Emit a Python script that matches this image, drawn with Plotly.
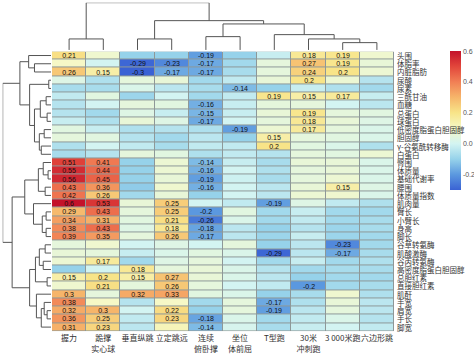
import plotly.graph_objects as go

# ---------------- data ----------------
col_labels = ["握力", "跪撑<br>实心球", "垂直纵跳", "立定跳远", "连续<br>俯卧撑",
              "坐位<br>体前屈", "T型跑", "30米<br>冲刺跑", "3 000米跑", "六边形跳"]

row_labels = ["头围", "体脂率", "内脏脂肪", "尿酸", "尿素", "三酰甘油", "血糖", "总蛋白",
              "球蛋白", "低密度脂蛋白胆固醇", "胆固醇", "γ-谷氨酰转移酶", "白蛋白", "臀围",
              "体质量", "基础代谢率", "腰围", "体质量指数", "肌肉量", "臂长", "小臂长", "身高",
              "脚长", "谷草转氨酶", "肌酸激酶", "谷丙转氨酶", "高密度脂蛋白胆固醇", "总胆红素",
              "直接胆红素", "肌酐", "手宽", "肩宽", "手长", "脚宽"]

grip = [0.21, 0.1, 0.26, 0.03, -0.07, -0.03, -0.05, -0.05, -0.02, 0.04, 0.05, -0.06, -0.07,
        0.51, 0.55, 0.56, 0.43, 0.42, 0.6, 0.29, 0.34, 0.38, 0.39,
        0.05, 0.06, 0.07, -0.1, 0.15, 0.08, 0.3, 0.38, 0.32, 0.36, 0.31]
ball = [0.08, 0.0, 0.15, -0.06, -0.07, 0.04, 0.0, -0.08, -0.06, -0.02, 0.04, 0.0, -0.05,
        0.41, 0.44, 0.45, 0.36, 0.26, 0.53, 0.43, 0.31, 0.43, 0.35,
        0.08, 0.05, 0.17, 0.0, 0.2, 0.21, 0.05, 0.1, 0.3, 0.25, 0.23]
vjump = [-0.1, -0.29, -0.3, 0.05, 0.02, -0.09, 0.05, 0.03, 0.06, -0.06, -0.05, -0.03, 0.05,
         -0.1, -0.1, -0.1, -0.11, -0.08, 0.06, 0.05, 0.04, 0.03, 0.05,
         0.0, -0.02, -0.08, 0.18, 0.15, 0.05, 0.32, -0.05, 0.0, -0.03, -0.04]
ljump = [-0.1, -0.23, -0.17, 0.06, -0.04, 0.0, 0.04, -0.02, 0.03, -0.05, -0.08, -0.07, 0.04,
         0.07, 0.07, 0.06, 0.08, 0.06, 0.25, 0.25, 0.21, 0.18, 0.26,
         0.03, 0.02, 0.03, 0.05, 0.27, 0.26, 0.33, 0.1, 0.22, 0.23, 0.12]
pushup = [-0.19, -0.17, -0.17, -0.08, -0.07, -0.08, -0.16, -0.15, -0.17, -0.06, -0.04, -0.03, -0.06,
          -0.14, -0.16, -0.19, -0.16, -0.1, 0.0, -0.2, -0.26, -0.18, -0.17,
          0.0, 0.04, 0.05, 0.06, 0.06, 0.05, 0.04, -0.08, -0.1, -0.18, -0.14]
sitreach = [-0.1, -0.08, -0.07, -0.03, -0.14, -0.03, -0.02, -0.02, 0.0, -0.19, -0.1, -0.03, -0.03,
            -0.02, 0.0, -0.01, 0.0, 0.0, -0.03, 0.04, 0.02, -0.04, -0.04,
            0.05, 0.02, 0.0, 0.02, 0.02, 0.0, 0.02, 0.05, 0.05, 0.02, 0.01]
trun = [-0.02, 0.05, 0.05, 0.06, -0.1, 0.19, 0.05, 0.06, 0.05, 0.07, 0.15, 0.2, -0.05,
        -0.07, -0.06, -0.07, -0.04, -0.04, -0.19, -0.08, -0.08, -0.1, -0.09,
        -0.1, -0.29, -0.08, -0.05, -0.04, -0.03, -0.1, -0.17, -0.19, -0.08, -0.07]
sprint30 = [0.18, 0.27, 0.24, 0.2, -0.02, 0.15, 0.05, 0.19, 0.18, 0.17, 0.05, 0.04, 0.05,
            0.06, 0.05, 0.05, 0.06, 0.07, 0.03, -0.02, -0.03, -0.05, -0.02,
            -0.04, -0.04, -0.02, -0.08, -0.1, -0.2, -0.07, -0.06, -0.04, -0.03, -0.02]
run3000 = [0.19, 0.19, 0.2, 0.07, -0.06, 0.17, 0.0, 0.05, 0.06, 0.05, 0.04, 0.02, 0.04,
           0.06, 0.06, 0.07, 0.15, 0.08, -0.03, -0.08, -0.08, -0.09, -0.09,
           -0.23, -0.17, -0.08, -0.07, -0.08, -0.08, 0.08, 0.06, 0.05, 0.02, 0.0]
hexjump = [0.08, 0.06, 0.07, -0.05, -0.08, -0.02, -0.04, 0.04, 0.03, 0.02, 0.02, -0.06, 0.07,
           0.02, 0.02, 0.02, 0.03, 0.02, -0.06, -0.08, -0.07, -0.07, -0.08,
           -0.08, -0.07, -0.06, -0.07, -0.08, -0.07, -0.06, -0.04, -0.04, -0.05, -0.03]

columns = [grip, ball, vjump, ljump, pushup, sitreach, trun, sprint30, run3000, hexjump]

# dendrogram merges: (child a, child b, height); ids >= n refer to earlier merges
col_merges = [(0, 1, 11), (2, 3, 11), (4, 5, 13.3), (8, 9, 7.3), (7, 13, 11),
              (6, 14, 15.3), (12, 15, 26), (11, 16, 29.3), (10, 17, 47.3)]
row_merges = [(1, 2, 17), (0, 34, 23), (3, 4, 2.3), (5, 6, 5), (7, 8, 4), (37, 38, 11),
              (9, 10, 7), (11, 12, 10), (40, 41, 12), (39, 42, 17), (36, 43, 22), (35, 44, 32),
              (14, 15, 3), (13, 46, 8), (16, 17, 6), (47, 48, 13), (19, 20, 5), (21, 22, 5),
              (50, 51, 9), (18, 52, 18), (49, 53, 27), (23, 24, 6), (25, 26, 8), (55, 56, 12),
              (27, 28, 4), (57, 58, 16), (31, 32, 4), (30, 60, 7), (61, 33, 10), (29, 62, 15),
              (59, 63, 22), (54, 64, 40), (45, 65, 49.7)]

SIG = 0.14

# ---------------- build ----------------
nr, nc = len(row_labels), len(col_labels)
z = [[columns[j][i] for j in range(nc)] for i in range(nr)]
txt = [[(f"{v:g}" if abs(v) >= SIG else "") for v in row] for row in z]


def dendro(merges, n):
    pos = {i: (float(i), 0.0) for i in range(n)}
    a_s, h_s = [], []
    for k, (a, b, h) in enumerate(merges):
        xa, ha = pos[a]
        xb, hb = pos[b]
        a_s += [xa, xa, xb, xb, None]
        h_s += [ha, h, h, hb, None]
        pos[n + k] = ((xa + xb) / 2, h)
    return a_s, h_s


cscale = [[0.0, "#3a62d4"], [0.111, "#5b98df"], [0.222, "#96d2ea"], [0.333, "#d3f4f2"],
          [0.444, "#f6f8c6"], [0.556, "#f8e488"], [0.667, "#f6b56a"], [0.778, "#f17f55"],
          [0.889, "#e2463b"], [1.0, "#c4122a"]]

fig = go.Figure()
fig.add_trace(go.Heatmap(
    z=z, x=list(range(nc)), y=list(range(nr)), text=txt, texttemplate="%{text}",
    textfont=dict(size=7, color="#111", family="Liberation Sans, Arial"),
    colorscale=cscale, zmin=-0.3, zmax=0.6, xgap=1, ygap=1, hoverinfo="skip",
    colorbar=dict(x=450 / 474, xanchor="left", y=1 - 51.7 / 354, yanchor="top",
                  len=141 / 354, lenmode="fraction", thickness=11, outlinewidth=0,
                  tickvals=[-0.2, 0, 0.2, 0.4, 0.6], ticktext=["-0.2", "0.0", "0.2", "0.4", "0.6"],
                  tickfont=dict(size=7, color="#555", family="Liberation Sans, Arial"),
                  ticks="", xpad=0, ypad=0)))

cx, ch = dendro(col_merges, nc)
fig.add_trace(go.Scatter(x=cx, y=ch, mode="lines", xaxis="x2", yaxis="y2",
                         line=dict(color="#555", width=1), hoverinfo="skip", showlegend=False))
ry, rh = dendro(row_merges, nr)
fig.add_trace(go.Scatter(x=rh, y=ry, mode="lines", xaxis="x3", yaxis="y3",
                         line=dict(color="#555", width=1), hoverinfo="skip", showlegend=False))

W, H = 474, 354
hx0, hx1 = 52 / W, 394 / W
hy0, hy1 = 1 - 335 / H, 1 - 52 / H
cjk = "Noto Sans CJK SC"

# grey cell-border backdrop behind the heatmap only
fig.add_shape(type="rect", xref="x", yref="y", x0=-0.5, x1=nc - 0.5, y0=-0.5, y1=nr - 0.5,
              fillcolor="#8e9898", line=dict(width=0), layer="below")

# row labels on the right
for i, lab in enumerate(row_labels):
    fig.add_annotation(x=hx1 + 2 / W, xref="paper", y=i, yref="y", text=lab, showarrow=False,
                       xanchor="left", yanchor="middle", align="left",
                       font=dict(size=7.5, color="#333", family=cjk), borderpad=0)

fig.update_layout(
    width=W, height=H, margin=dict(l=0, r=0, t=0, b=0),
    paper_bgcolor="white", plot_bgcolor="white", showlegend=False,
    xaxis=dict(domain=[hx0, hx1], range=[-0.5, nc - 0.5], tickvals=list(range(nc)),
               ticktext=col_labels, tickangle=0, showgrid=False, zeroline=False,
               ticks="", tickfont=dict(size=8, color="#333", family=cjk), ticklabelstandoff=1),
    yaxis=dict(domain=[hy0, hy1], range=[nr - 0.5, -0.5], showticklabels=False,
               showgrid=False, zeroline=False, ticks=""),
    xaxis2=dict(domain=[hx0, hx1], range=[-0.5, nc - 0.5], anchor="y2", visible=False),
    yaxis2=dict(domain=[1 - 50.5 / H, 1 - 2.7 / H], range=[0, 47.3], anchor="x2", visible=False),
    xaxis3=dict(domain=[2.7 / W, 51 / W], range=[49.7, 0], anchor="y3", visible=False),
    yaxis3=dict(domain=[hy0, hy1], range=[nr - 0.5, -0.5], anchor="x3", visible=False),
)

fig.write_html("out.html")
